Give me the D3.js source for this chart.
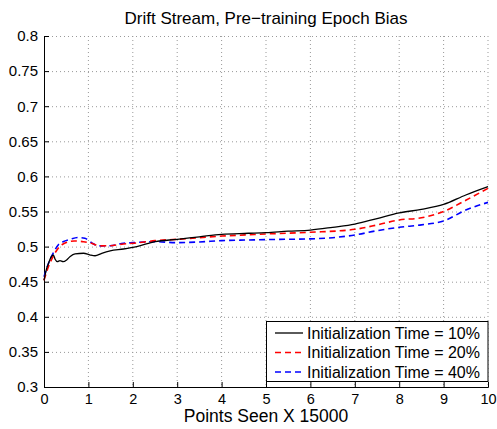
<!DOCTYPE html>
<html><head><meta charset="utf-8">
<script src="https://cdn.jsdelivr.net/npm/d3@7"></script>
<style>body{margin:0;background:#fff}svg{font-family:"Liberation Sans",Arial,sans-serif}</style>
</head><body><svg id="c" width="497" height="429"></svg>
<script>
const xTicks = [0,1,2,3,4,5,6,7,8,9,10];
const yTicks = [0.3,0.35,0.4,0.45,0.5,0.55,0.6,0.65,0.7,0.75,0.8];
const seriesNames = ["Initialization Time = 10%","Initialization Time = 20%","Initialization Time = 40%"];
const xs10 = [0,0.06,0.1,0.17,0.21,0.25,0.3,0.36,0.43,0.51,0.59,0.7,0.89,1.04,1.15,1.3,1.49,1.79,2.09,2.5,3,3.5,4,4.6,5,5.5,6,6.5,7,7.5,8,8.5,9,9.5,10];
const ys10 = [0.452,0.469,0.476,0.486,0.488,0.482,0.4785,0.480,0.4785,0.481,0.486,0.4897,0.4905,0.488,0.487,0.4905,0.494,0.4966,0.500,0.507,0.5104,0.514,0.5175,0.519,0.520,0.522,0.5236,0.5275,0.532,0.540,0.548,0.553,0.560,0.5735,0.5853];
const xs20 = [0,0.1,0.21,0.32,0.43,0.68,0.89,1.07,1.26,1.49,1.79,2,2.5,3,4,4.6,5,6,7,7.5,8,8.5,9,9.5,10];
const ys20 = [0.452,0.4714,0.4866,0.4976,0.5037,0.508,0.507,0.5047,0.501,0.5013,0.5037,0.5047,0.5085,0.5104,0.515,0.5168,0.518,0.5204,0.5246,0.5308,0.538,0.541,0.550,0.566,0.583];
const xs40 = [0,0.1,0.21,0.32,0.43,0.59,0.77,0.92,1.07,1.22,1.49,1.79,2,2.5,3,3.5,4,4.6,5,6,6.5,7,7.5,8,8.5,9,9.5,10];
const ys40 = [0.457,0.476,0.491,0.5023,0.507,0.5104,0.513,0.5118,0.5056,0.501,0.5013,0.5047,0.5056,0.507,0.5056,0.5066,0.5085,0.5094,0.510,0.511,0.5127,0.5165,0.5227,0.5275,0.531,0.5365,0.552,0.563];

const svg = d3.select("#c");
const L=44,R=488,T=36,B=387;
const x = d3.scaleLinear().domain([0,10]).range([L,R]);
const y = d3.scaleLinear().domain([0.3,0.8]).range([B,T]);

// grid
const g = svg.append("g");
g.selectAll(".vx").data(xTicks.slice(1)).join("line")
 .attr("x1",d=>x(d)).attr("x2",d=>x(d)).attr("y1",T).attr("y2",B)
 .attr("stroke","#999").attr("stroke-width",1).attr("stroke-dasharray","1,3");
g.selectAll(".hy").data(yTicks.slice(1)).join("line")
 .attr("y1",d=>y(d)+0.5).attr("y2",d=>y(d)+0.5).attr("x1",L).attr("x2",R)
 .attr("stroke","#999").attr("stroke-width",1).attr("stroke-dasharray","1,3");

// axes
const xa = svg.append("g").attr("transform",`translate(0,${B})`)
 .call(d3.axisBottom(x).tickValues(xTicks).tickSize(-5).tickPadding(7).tickFormat(d3.format("d")));
const ya = svg.append("g").attr("transform",`translate(${L},0)`)
 .call(d3.axisLeft(y).tickValues(yTicks).tickSize(-5).tickPadding(6).tickFormat(d=>String(+d.toFixed(2))));
xa.selectAll("text").attr("font-size",14.5);
ya.selectAll("text").attr("font-size",15);
[xa,ya].forEach(a=>{a.selectAll("text").attr("fill","#000").attr("font-family","Liberation Sans, Arial, sans-serif");
 a.selectAll("line,path").attr("stroke","#000");});

// lines
const line = d3.line().x(d=>x(d[0])).y(d=>y(d[1])).curve(d3.curveMonotoneX);
const series = [
 {xs:xs10,ys:ys10,color:"#000",dash:null,w:1.3},
 {xs:xs20,ys:ys20,color:"#ff0000",dash:"6,4",w:1.6},
 {xs:xs40,ys:ys40,color:"#0000ff",dash:"6,4",w:1.6}
];
series.slice().reverse().forEach(s=>{
 svg.append("path").datum(s.xs.map((v,i)=>[v,s.ys[i]]))
  .attr("d",line).attr("fill","none").attr("stroke",s.color)
  .attr("stroke-width",s.w).attr("stroke-dasharray",s.dash);
});

// title and labels
svg.append("text").attr("x",(L+R)/2).attr("y",24).attr("text-anchor","middle")
 .attr("font-size",17).text("Drift Stream, Pre\u2212training Epoch Bias");
svg.append("text").attr("x",(L+R)/2).attr("y",422).attr("text-anchor","middle")
 .attr("font-size",17.5).text("Points Seen X 15000");

// legend
const lg = svg.append("g");
lg.append("rect").attr("x",266.5).attr("y",321.5).attr("width",221.5).attr("height",60)
 .attr("fill","#fff").attr("stroke","#000").attr("stroke-width",1);
series.forEach((s,i)=>{
 const yy = 333 + i*19.5;
 lg.append("line").attr("x1",275).attr("x2",303).attr("y1",yy).attr("y2",yy)
  .attr("stroke",s.color).attr("stroke-width",s.w).attr("stroke-dasharray",s.dash);
 lg.append("text").attr("x",307).attr("y",yy+5.5).attr("font-size",16).text(seriesNames[i]);
});
</script></body></html>
